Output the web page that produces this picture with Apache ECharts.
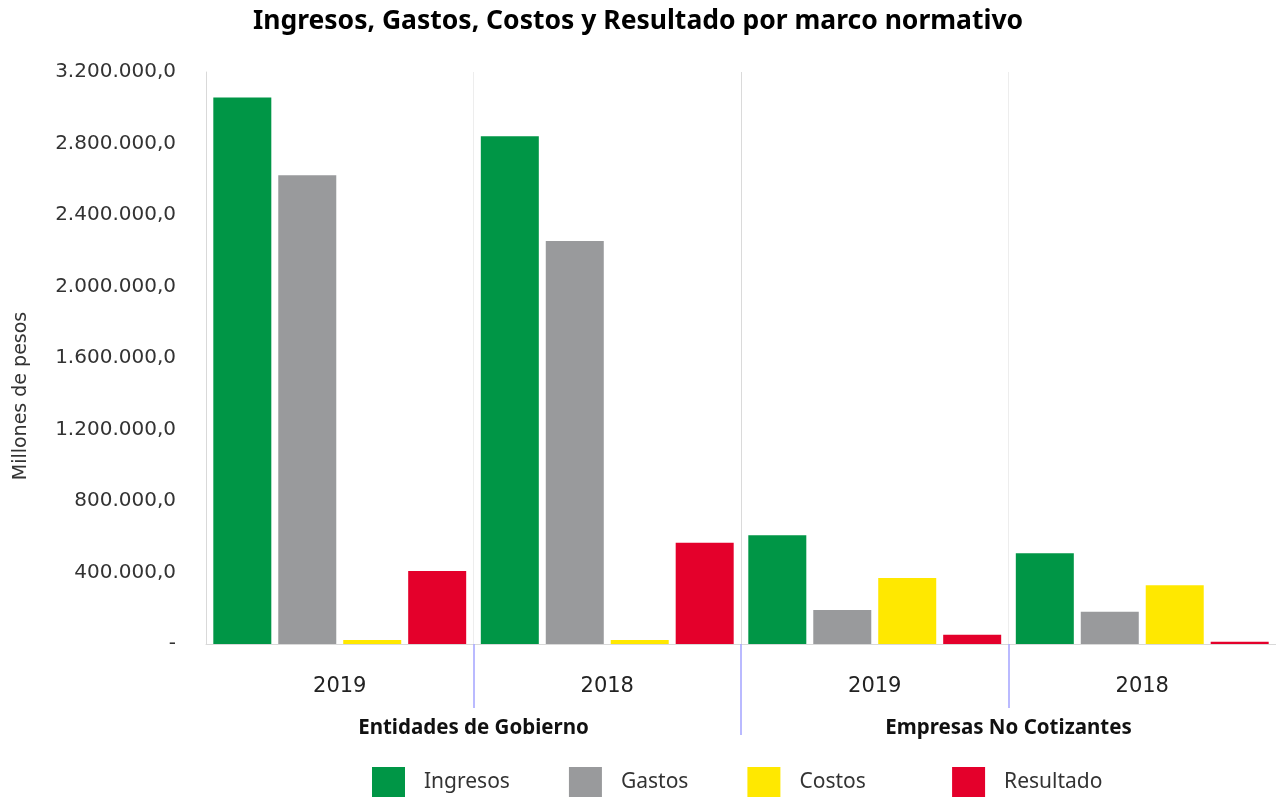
<!DOCTYPE html>
<html>
<head>
<meta charset="utf-8">
<script src="https://cdn.jsdelivr.net/npm/echarts@6/dist/echarts.min.js"></script>
<style>
html,body{margin:0;padding:0;background:#fff;}
#chart{width:1276px;height:799px;}
</style>
</head>
<body>
<div id="chart"></div>
<script>
const titleText = 'Ingresos, Gastos, Costos y Resultado por marco normativo';
const years = ['2019', '2018', '2019', '2018'];
const groups = ['Entidades de Gobierno', 'Empresas No Cotizantes'];
const seriesNames = ['Ingresos', 'Gastos', 'Costos', 'Resultado'];
const ingresos = [3058000, 2840000, 608000, 507000];
const gastos = [2622000, 2255000, 190000, 181000];
const costos = [22000, 22000, 369000, 328000];
const resultado = [408000, 567000, 52000, 13000];
const colors = ['#009646', '#999a9c', '#ffe800', '#e4002b'];
const yMin = 0, yMax = 3200000, yStep = 400000;
// boundary points for separator ticks (year boundaries and group boundaries)
const yearBounds = ['', '', '', '', ''];
const groupBounds = ['', '', ''];

function fmt(v) {
  if (v === 0) return '-';
  const s = Math.round(v).toString().replace(/\B(?=(\d{3})+(?!\d))/g, '.');
  return s + ',0';
}

const chart = echarts.init(document.getElementById('chart'));
const allData = [ingresos, gastos, costos, resultado];
chart.setOption({
  animation: false,
  backgroundColor: '#ffffff',
  title: {
    text: titleText,
    left: 'center',
    top: 3,
    textStyle: {fontFamily: 'Noto Sans', fontWeight: 'bold', fontSize: 26.5, color: '#000'}
  },
  legend: {
    top: 762,
    left: 367,
    itemWidth: 33,
    itemHeight: 30,
    itemGap: 59,
    icon: 'rect',
    data: seriesNames,
    formatter: function (n) { return n === 'Costos' ? '{t|' + n + '}{g|\u00a0\u00a0\u00a0\u00a0\u00a0}' : '{t|' + n + '}'; },
    textStyle: {
      fontFamily: 'Noto Sans', fontSize: 21, color: '#333',
      rich: {
        t: {fontFamily: 'Noto Sans', fontSize: 21, color: '#333', padding: [0, 0, 0, 14]},
        g: {fontFamily: 'Noto Sans', fontSize: 21}
      }
    }
  },
  grid: {left: 206, right: 0, top: 72, bottom: 155, containLabel: false},
  xAxis: [
    {
      type: 'category',
      data: years,
      position: 'bottom',
      axisLine: {show: true, lineStyle: {color: '#d9d9d9', width: 1}},
      axisTick: {show: false},
      axisLabel: {margin: 32, fontFamily: 'DejaVu Sans', fontSize: 21, color: '#222'},
      splitLine: {show: false}
    },
    {
      type: 'category',
      data: groups,
      position: 'bottom',
      axisLine: {show: false},
      axisTick: {show: false},
      axisLabel: {margin: 74, fontFamily: 'Noto Sans', fontWeight: 'bold', fontSize: 20.5, color: '#111'},
      splitLine: {show: false}
    },
    {
      type: 'category',
      data: yearBounds,
      boundaryGap: false,
      position: 'bottom',
      axisLine: {show: false},
      axisLabel: {show: false},
      axisTick: {show: true, length: 64, interval: function (i) { return i === 1 || i === 3; }, lineStyle: {color: '#a4a4ff', width: 1.5}},
      splitLine: {show: true, interval: function (i) { return i === 1 || i === 3; }, lineStyle: {color: '#ededed', width: 1}}
    },
    {
      type: 'category',
      data: groupBounds,
      boundaryGap: false,
      position: 'bottom',
      axisLine: {show: false},
      axisLabel: {show: false},
      axisTick: {show: true, length: 91, interval: function (i) { return i === 1; }, lineStyle: {color: '#a4a4ff', width: 1.5}},
      splitLine: {show: true, interval: function (i) { return i === 1; }, lineStyle: {color: '#dadada', width: 1}}
    }
  ],
  yAxis: {
    type: 'value',
    min: yMin,
    max: yMax,
    interval: yStep,
    name: 'Millones de pesos',
    nameLocation: 'middle',
    nameGap: 175,
    nameRotate: 90,
    nameTextStyle: {fontFamily: 'DejaVu Sans', fontSize: 19, color: '#333', padding: [0, 76, 0, 0]},
    axisLine: {show: true, lineStyle: {color: '#d9d9d9', width: 1}},
    axisTick: {show: false},
    splitLine: {show: false},
    axisLabel: {margin: 30, fontFamily: 'DejaVu Sans', fontSize: 20, color: '#333', formatter: fmt}
  },
  series: seriesNames.map(function (n, k) {
    return {
      name: n,
      type: 'bar',
      xAxisIndex: 0,
      data: allData[k],
      barWidth: 58,
      barGap: '12%',
      itemStyle: {color: colors[k]}
    };
  })
});
</script>
</body>
</html>
